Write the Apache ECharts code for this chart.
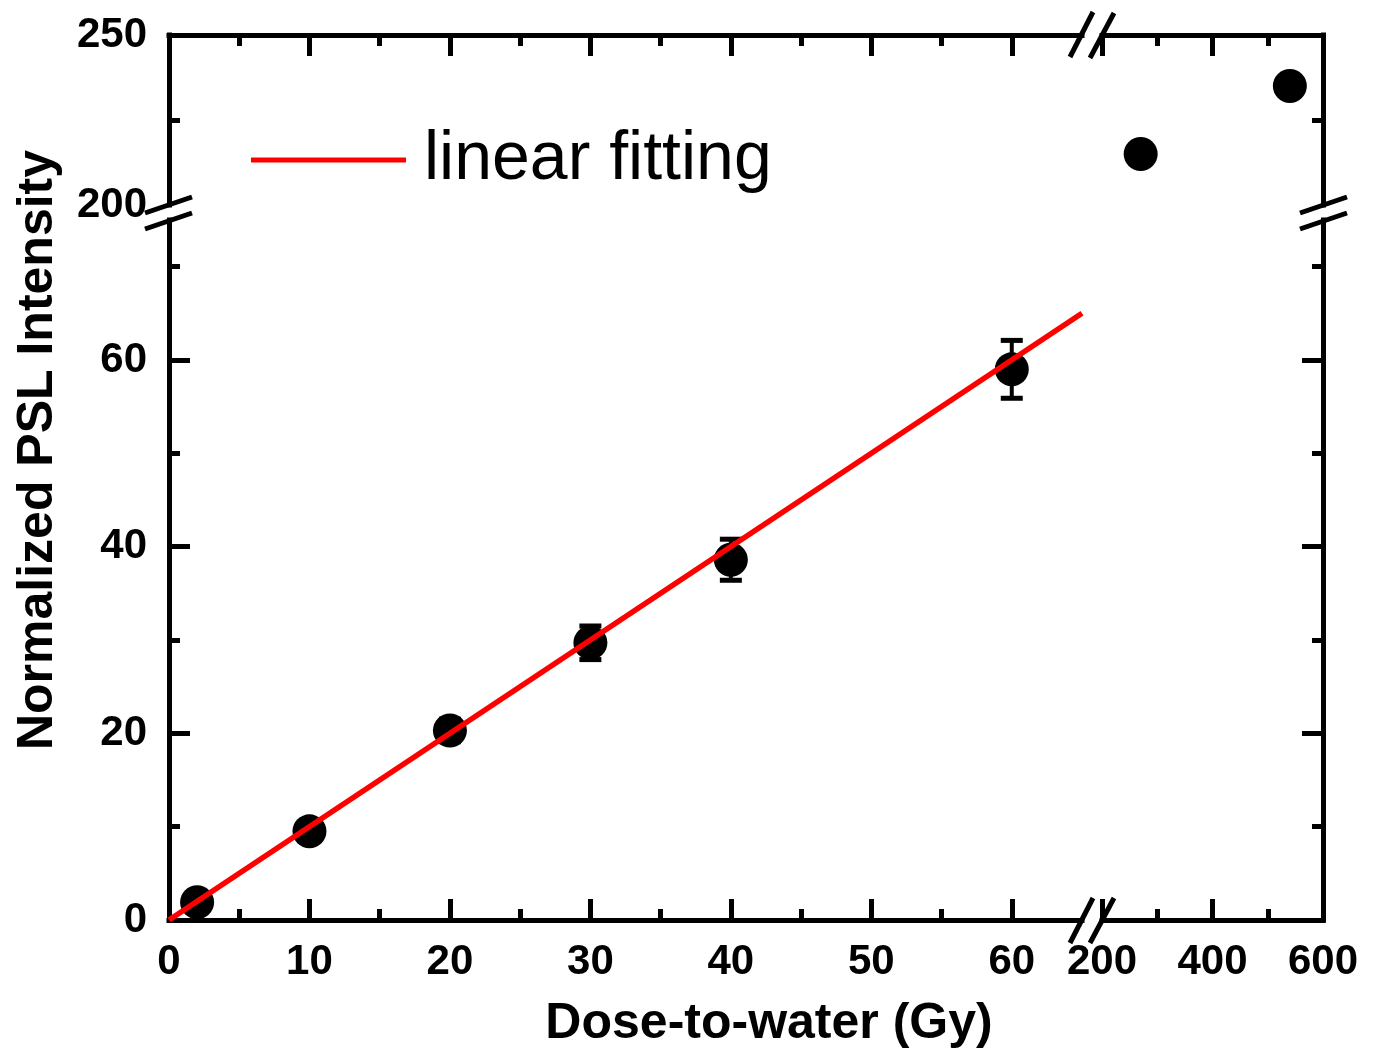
<!DOCTYPE html>
<html>
<head>
<meta charset="utf-8">
<script src="https://cdn.jsdelivr.net/npm/echarts@6/dist/echarts.min.js"></script>
<style>
html, body { margin: 0; background: #fff; }
#chart { width: 1376px; height: 1059px; }
</style>
</head>
<body>
<div id="chart"></div>
<script>
// data
var doseLow = [2, 10, 20, 30, 40, 60];
var pslLow = [1.9, 9.5, 20.3, 29.7, 38.6, 59.0];
var errLow = [0.3, 0.6, 1.2, 1.8, 2.2, 3.1];
var doseHigh = [270, 540];
var pslHigh = [215, 235];
var fitDose = [0, 65];
var fitPsl = [0, 65];

// ticks
var xMajorLow = [0, 10, 20, 30, 40, 50, 60];
var xMinorLow = [5, 15, 25, 35, 45, 55];
var xMajorHigh = [200, 400, 600];
var xMinorHigh = [300, 500];
var yMajorLow = [0, 20, 40, 60];
var yMinorLow = [10, 30, 50, 70];
var yLabelHigh = [200, 250];
var yMinorHigh = [225];

var FONT = 'Liberation Sans';
var myChart = echarts.init(document.getElementById('chart'));

var xAxes = [], yAxes = [];
function axis(grid, pos, min, max, ticks, tickLen, labels, showLine, margin) {
    return {
        type: 'value', gridIndex: grid, position: pos, min: min, max: max,
        axisLine: { show: showLine, onZero: false, lineStyle: { color: '#000', width: 5, cap: 'square' } },
        axisTick: { show: ticks.length > 0, inside: true, length: tickLen, customValues: ticks,
            lineStyle: { color: '#000', width: 5 } },
        axisLabel: { show: labels.length > 0, customValues: labels, margin: margin || 8,
            color: '#000', fontSize: 42, fontWeight: 'bold', fontFamily: FONT },
        splitLine: { show: false }
    };
}
function add(list, a) { list.push(a); return list.length - 1; }

// grid 0: lower left, 1: upper left, 2: lower right, 3: upper right
var grids = [
    { left: 169, top: 220, width: 913, height: 700 },
    { left: 169, top: 35, width: 913, height: 170 },
    { left: 1102, top: 220, width: 221, height: 700 },
    { left: 1102, top: 35, width: 221, height: 170 }
];

var x0 = add(xAxes, axis(0, 'bottom', 0, 65, xMajorLow, 21, xMajorLow, true, 21));
add(xAxes, axis(0, 'bottom', 0, 65, xMinorLow, 11, [], false));
var y0 = add(yAxes, axis(0, 'left', 0, 75, yMajorLow, 21, yMajorLow, true, 22));
add(yAxes, axis(0, 'left', 0, 75, yMinorLow, 11, [], false));

add(xAxes, axis(1, 'top', 0, 65, xMajorLow, 21, [], true));
add(xAxes, axis(1, 'top', 0, 65, xMinorLow, 11, [], false));
add(yAxes, axis(1, 'left', 200, 250, [], 21, yLabelHigh, true, 22));
add(yAxes, axis(1, 'left', 200, 250, yMinorHigh, 11, [], false));

add(xAxes, axis(2, 'bottom', 200, 600, xMajorHigh, 21, xMajorHigh, true, 21));
add(xAxes, axis(2, 'bottom', 200, 600, xMinorHigh, 11, [], false));
add(yAxes, axis(2, 'right', 0, 75, yMajorLow, 21, [], true));
add(yAxes, axis(2, 'right', 0, 75, yMinorLow, 11, [], false));

var x3 = add(xAxes, axis(3, 'top', 200, 600, xMajorHigh, 21, [], true));
add(xAxes, axis(3, 'top', 200, 600, xMinorHigh, 11, [], false));
var y3 = add(yAxes, axis(3, 'right', 200, 250, [], 21, [], true));
add(yAxes, axis(3, 'right', 200, 250, yMinorHigh, 11, [], false));

var lowPoints = doseLow.map(function (d, i) { return [d, pslLow[i]]; });
var highPoints = doseHigh.map(function (d, i) { return [d, pslHigh[i]]; });
var errData = doseLow.map(function (d, i) { return [d, pslLow[i] - errLow[i], pslLow[i] + errLow[i]]; });
var fitData = fitDose.map(function (d, i) { return [d, fitPsl[i]]; });

function renderErr(params, api) {
    var lo = api.coord([api.value(0), api.value(1)]);
    var hi = api.coord([api.value(0), api.value(2)]);
    var cap = 11;
    var st = { stroke: '#000', lineWidth: 5 };
    return {
        type: 'group',
        children: [
            { type: 'line', shape: { x1: lo[0], y1: lo[1], x2: hi[0], y2: hi[1] }, style: { stroke: '#000', lineWidth: 4 } },
            { type: 'line', shape: { x1: hi[0] - cap, y1: hi[1], x2: hi[0] + cap, y2: hi[1] }, style: st },
            { type: 'line', shape: { x1: lo[0] - cap, y1: lo[1], x2: lo[0] + cap, y2: lo[1] }, style: st }
        ]
    };
}

// axis break marks
function slash(x1, y1, x2, y2) {
    return { type: 'line', shape: { x1: x1, y1: y1, x2: x2, y2: y2 }, style: { stroke: '#000', lineWidth: 5 }, z: 100 };
}
var breaks = [
    slash(145, 213, 192, 197), slash(145, 229, 192, 213),
    slash(1300, 213, 1347, 197), slash(1300, 229, 1347, 213),
    slash(1070, 57, 1093, 12), slash(1090, 58, 1114, 13),
    slash(1070, 943, 1093, 898), slash(1090, 943, 1114, 898)
];

var option = {
    animation: false,
    backgroundColor: '#fff',
    grid: grids,
    xAxis: xAxes,
    yAxis: yAxes,
    legend: {
        left: 246, top: 121,
        icon: 'rect', itemWidth: 155, itemHeight: 5,
        data: ['linear fitting'],
        textStyle: { fontSize: 68, fontFamily: FONT, color: '#000', padding: [0, 0, 0, 13] }
    },
    graphic: breaks.concat([
        { type: 'text', x: 769, y: 1024, z: 100,
          style: { text: 'Dose-to-water (Gy)', font: 'bold 50px "Liberation Sans"', fill: '#000',
                   textAlign: 'center', textVerticalAlign: 'middle' } },
        { type: 'text', x: 38, y: 450, rotation: Math.PI / 2, z: 100,
          style: { text: 'Normalized PSL Intensity', font: 'bold 50px "Liberation Sans"', fill: '#000',
                   textAlign: 'center', textVerticalAlign: 'middle' } }
    ]),
    series: [
        { type: 'custom', name: 'err', xAxisIndex: x0, yAxisIndex: y0, data: errData,
          renderItem: renderErr, encode: { x: 0, y: [1, 2] }, z: 2 },
        { type: 'scatter', name: 'data', xAxisIndex: x0, yAxisIndex: y0, data: lowPoints,
          symbolSize: 34, itemStyle: { color: '#000', opacity: 1 }, z: 3 },
        { type: 'scatter', name: 'data high', xAxisIndex: x3, yAxisIndex: y3, data: highPoints,
          symbolSize: 34, itemStyle: { color: '#000', opacity: 1 }, z: 3 },
        { type: 'line', name: 'linear fitting', xAxisIndex: x0, yAxisIndex: y0, data: fitData,
          showSymbol: false, symbol: 'none', color: '#ff0000',
          lineStyle: { color: '#ff0000', width: 5.5 }, itemStyle: { color: '#ff0000' }, z: 5 }
    ]
};
myChart.setOption(option);
</script>
</body>
</html>
